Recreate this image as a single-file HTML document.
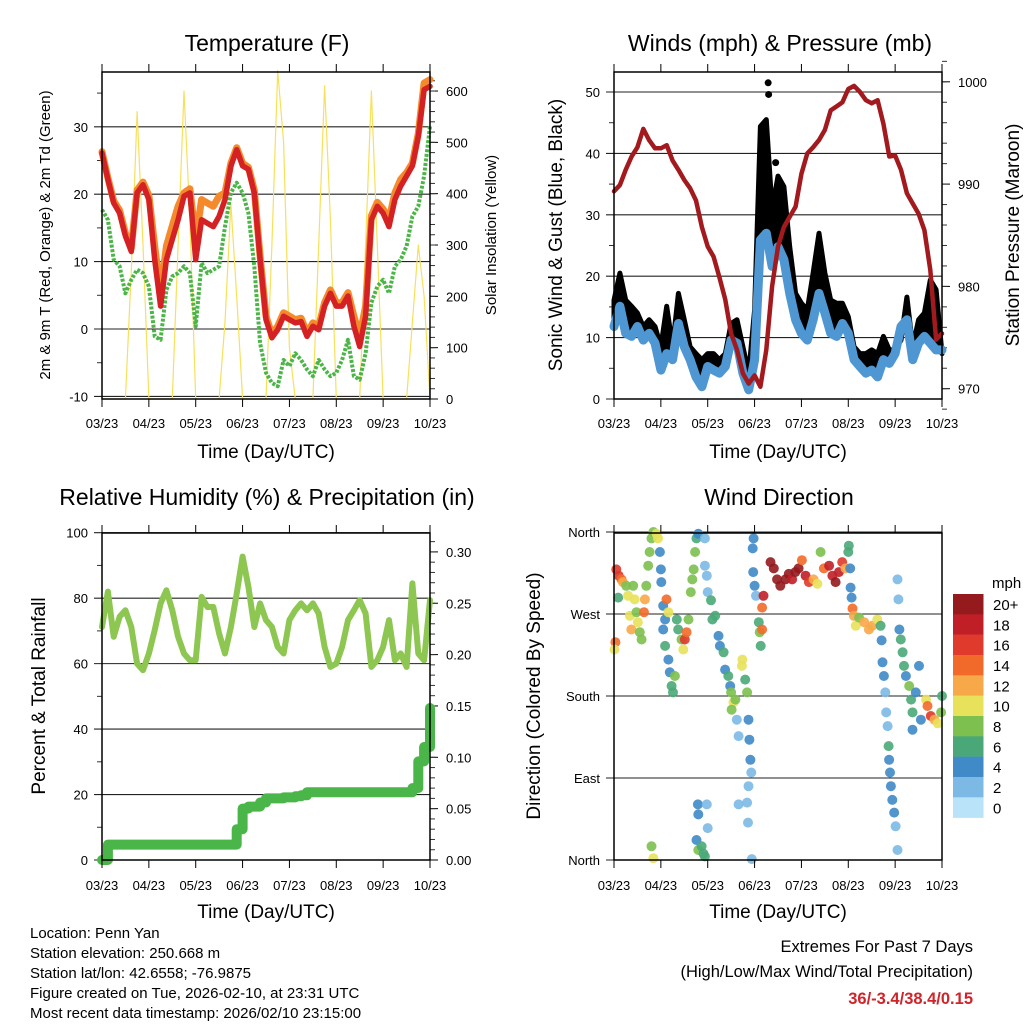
<!DOCTYPE html>
<html><head><meta charset="utf-8"><style>
html,body{margin:0;padding:0;background:#fff}
svg{display:block;font-family:"Liberation Sans",Arial,sans-serif}
</style></head><body>
<svg id="chart" width="1024" height="1024" viewBox="0 0 1024 1024" xmlns="http://www.w3.org/2000/svg"></svg>
<script>
const xLabels=["03/23","04/23","05/23","06/23","07/23","08/23","09/23","10/23"];
const tempRed=[26.1,22.2,18.7,17.2,13.8,11.5,20.2,21.4,19.2,10.3,3.4,10.3,13.3,16.2,19.7,20.2,10.3,16.2,15.7,15.2,16.7,19.2,24.2,26.6,24.2,23.7,20.2,10.3,1.4,-1.3,-0.1,1.9,1.4,0.9,1.1,-1.1,0.4,-0.1,3.4,5.3,3.4,3.4,4.9,0.4,-2.6,1.9,16.2,18.2,17.2,15.2,19.2,21.2,22.7,24.2,28.6,35.5,36.0];
const tempOrange=[26.3,22.4,19.0,17.6,14.2,12.0,20.6,21.8,19.8,12.3,5.4,12.3,15.3,18.2,20.2,20.8,13.3,19.2,18.7,18.2,19.7,20.2,24.6,26.9,24.6,24.0,20.6,10.8,1.9,-0.8,0.4,2.4,1.9,1.4,1.6,-0.6,0.9,0.4,3.9,5.8,3.9,3.9,5.4,1.9,-1.1,3.4,16.8,18.8,17.8,16.2,20.2,22.2,23.2,24.6,29.0,36.5,37.0];
const dewGreen=[17.7,16.2,10.3,9.3,5.3,7.3,8.8,8.3,6.3,-1.1,-1.6,5.8,7.8,8.3,9.3,8.3,0.4,9.8,8.3,8.8,9.3,15.2,20.2,21.7,20.2,17.2,9.3,-2.1,-6.5,-8.0,-8.5,-4.6,-5.5,-3.6,-4.6,-6.0,-7.0,-4.6,-6.0,-7.0,-6.5,-4.6,-1.6,-7.0,-7.5,-3.6,3.9,6.3,7.3,5.3,9.3,10.3,12.3,16.7,18.2,22.7,30.1];
const solar=[0,0,0,0,0,250,560,300,0,0,0,0,0,300,600,350,0,0,0,0,0,150,380,200,0,0,0,0,0,300,640,500,100,0,0,0,0,300,610,350,0,0,0,0,0,300,600,300,0,0,0,0,0,150,300,200,0];
const pressure=[989.3,989.9,991.4,992.7,993.6,995.4,994.3,993.5,993.5,993.8,992.3,991.4,990.4,989.6,988.4,985.8,983.9,982.9,980.9,978.7,975.4,973.8,971.5,970.5,971.3,970.2,973.8,980.0,983.9,985.8,986.8,987.8,991.0,993.0,993.6,994.3,995.3,997.2,997.6,998.0,999.3,999.6,999.0,998.2,997.9,998.2,995.9,992.7,992.8,991.4,989.1,988.1,987.1,985.5,981.6,974.8,975.4];
const windSpeed=[11.8,15.1,10.7,10.2,11.8,9.6,10.7,9.1,4.7,7.4,6.4,12.3,8.5,6.4,3.6,2.0,5.3,4.7,4.2,5.3,9.6,9.1,4.2,1.5,6.4,25.9,27.0,21.6,24.8,22.7,17.2,12.9,10.7,9.6,12.9,17.2,14.0,10.7,10.2,12.3,10.7,6.4,5.3,4.2,4.7,3.6,6.4,5.8,7.4,11.8,12.9,6.4,9.1,10.2,9.1,8.0,8.0];
const windGust=[16.1,20.5,16.1,15.1,14.0,11.8,12.9,11.8,8.5,15.1,8.5,17.2,12.9,8.5,7.4,6.4,7.4,7.4,6.4,7.4,12.3,12.9,8.5,4.2,14.5,44.4,45.5,30.8,36.3,34.6,24.8,17.2,15.6,14.5,20.5,27.0,20.5,16.1,15.6,15.6,13.4,8.5,7.4,7.4,8.0,7.4,10.2,8.0,8.0,9.6,16.6,8.5,12.9,14.0,19.4,17.8,7.4];
const gustPeakT=[3.29,3.30,3.21,3.45,3.19];
const gustPeakV=[51.5,49.6,42.0,38.5,39.0];
const rh=[71.2,82.0,68.2,74.3,76.3,71.2,60.0,58.0,63.1,70.2,78.4,82.4,76.3,68.2,63.1,61.0,61.0,80.4,77.3,77.3,69.2,63.1,71.2,81.4,92.7,83.5,71.2,78.4,73.3,71.2,65.1,63.1,73.3,76.3,78.4,76.3,78.4,75.3,65.1,59.0,60.0,65.1,73.3,76.3,79.4,75.3,59.0,61.0,65.1,73.3,61.0,63.1,59.0,84.5,63.1,61.0,79.4];
const precip=[0,0.015,0.015,0.015,0.015,0.015,0.015,0.015,0.015,0.015,0.015,0.015,0.015,0.015,0.015,0.015,0.015,0.015,0.015,0.015,0.015,0.015,0.015,0.030,0.050,0.052,0.052,0.056,0.060,0.060,0.060,0.061,0.061,0.062,0.063,0.066,0.066,0.066,0.066,0.066,0.066,0.066,0.066,0.066,0.066,0.066,0.066,0.066,0.066,0.066,0.066,0.066,0.066,0.070,0.096,0.110,0.148];
const dirT=[.05,.10,.16,.19,.03,.01,.09,.26,.30,.34,.37,.41,.44,.48,.51,.55,.59,.66,.64,.69,.73,.76,.80,.84,.91,.94,.98,1.00,1.01,1.05,1.09,1.12,1.16,1.05,1.09,1.16,1.19,1.23,1.26,1.30,1.34,1.37,1.44,1.51,1.55,1.48,1.59,1.64,1.67,1.70,1.73,1.76,1.80,1.94,1.94,1.98,2.00,2.07,2.10,2.16,2.23,2.26,2.34,2.37,2.44,2.48,2.50,2.55,2.59,2.51,2.62,2.66,2.73,2.74,2.80,2.84,2.87,2.89,2.91,2.93,2.87,2.84,2.86,2.66,2.98,2.96,2.97,3.00,3.03,3.09,3.11,3.16,3.13,3.19,3.16,3.34,3.41,3.48,3.55,3.66,3.73,3.80,3.87,3.94,4.01,4.09,4.16,4.26,4.34,4.41,4.48,4.59,4.66,4.73,4.80,4.87,4.94,5.00,5.01,5.04,5.05,5.07,5.09,5.12,5.16,5.23,5.34,5.44,5.51,5.62,5.69,5.71,5.73,5.76,5.79,5.81,5.84,5.86,5.87,5.89,5.91,5.94,5.98,6.01,6.05,6.05,6.07,6.09,6.12,6.16,6.19,6.23,6.30,6.34,6.37,6.44,6.51,6.55,6.66,6.69,6.76,6.84,6.91,6.98,7.0,6.37,.80,.84,1.76,1.80,1.87,1.91,1.94,1.79,1.80,1.98,2.94,2.00];
const dirDeg=[319,312,308,305,239,231,288,301,290,268,253,301,286,272,261,250,242,286,272,301,323,338,353,360,358,353,338,319,305,279,264,286,272,253,235,220,206,191,184,202,264,253,242,242,250,231,264,294,308,319,338,353,358,353,323,312,294,285,264,268,246,235,228,209,202,191,184,173,176,165,154,136,213,220,198,184,154,132,110,96,81,63,41,61,353,342,316,301,290,261,250,253,235,290,277,327,320,308,301,308,314,308,316,320,329,312,305,308,303,338,320,323,312,305,316,327,320,338,345,320,299,288,276,268,257,266,261,253,257,264,257,241,217,202,184,162,147,125,110,96,81,66,52,37,11,308,286,253,242,228,213,202,191,176,162,184,213,154,176,169,158,154,150,162,180,143,15,2,22,11,15,7,4,61,50,61,1,35];
const dirSpd=[15,16,14,12,13,10,6,8,10,10,12,8,10,8,10,8,7,12,13,8,7,8,8,7,10,10,4,4,4,4,4,13,10,4,6,4,4,6,6,7,6,6,8,15,14,10,7,8,8,7,8,6,3,1,1,1,1,6,5,6,4,4,5,4,5,4,8,10,8,8,2,1,9,10,6,7,3,3,3,2,1,1,1,1,4,3,3,3,2,6,8,14,6,18,14,20,20,20,20,20,20,18,20,20,14,18,16,12,10,8,14,18,18,20,18,16,12,6,6,4,4,4,14,12,10,8,12,12,12,10,6,4,3,3,2,2,2,6,4,4,3,3,4,2,1,1,1,4,6,6,6,4,8,5,6,4,4,3,10,14,16,12,10,8,5,4,8,10,4,8,6,5,6,4,4,1,1,1];
const speedBins=["0","2","4","6","8","10","12","14","16","18","20+"];
const speedColors=["#b9e3f8","#7cb9e5","#3f8ac7","#4aa878","#7dc04f","#e8e25a","#f7a848","#f26a2a","#df3a2b","#c01f27","#951a1e"];

const svg=document.getElementById('chart');
const NS="http://www.w3.org/2000/svg";
function el(tag,attrs,parent){const e=document.createElementNS(NS,tag);for(const k in attrs)e.setAttribute(k,attrs[k]);(parent||svg).appendChild(e);return e;}
function txt(s,x,y,size,anchor,parent,extra){const e=el('text',Object.assign({x:x,y:y,'font-size':size,'text-anchor':anchor||'middle',fill:'#000'},extra||{}),parent);e.textContent=s;return e;}
const tStep=0.125;
function tAt(i){return i*tStep;}

function panel(name,x0,x1,yTop,yBot){
  const g=el('g',{});
  
  
  return {g:g,x0:x0,x1:x1,yTop:yTop,yBot:yBot,x:function(t){return x0+t*(x1-x0)/7;}};
}
function frame(P,labelY,titleY){
  const xa=el('g',{},P.g);
  
  
  for(let i=0;i<xLabels.length;i++){
    const xx=P.x(i);
    el('line',{x1:xx,x2:xx,y1:P.yBot,y2:P.yBot+8,stroke:'#000','stroke-width':1},xa);
    el('line',{x1:xx,x2:xx,y1:P.yTop,y2:P.yTop-8,stroke:'#000','stroke-width':1},xa);
    const t=txt(xLabels[i],xx,labelY,13,'middle',xa);
    
    
  }
  const tt=txt('Time (Day/UTC)',(P.x0+P.x1)/2,titleY,19,'middle',xa);
  
  
}
function box(P){
  const r=el('rect',{x:P.x0,y:P.yTop,width:P.x1-P.x0,height:P.yBot-P.yTop,fill:'none',stroke:'#000','stroke-width':1.5},P.g);
  
  
}
function leftAxis(P,vals,labels,yf,minor,name){
  const a=el('g',{},P.g);
  
  
  for(let i=0;i<vals.length;i++){
    const y=yf(vals[i]);
    el('line',{x1:P.x0-8,x2:P.x1,y1:y,y2:y,stroke:'#222','stroke-width':1.1},a);
    const t=txt(labels[i],P.x0-14,y+5,13,'end',a);
    
    
  }
  minor.forEach(v=>{const y=yf(v);el('line',{x1:P.x0-5,x2:P.x0,y1:y,y2:y,stroke:'#333','stroke-width':1},a);});
}
function rightAxis(P,vals,labels,yf,minor,name){
  const a=el('g',{},P.g);
  
  
  for(let i=0;i<vals.length;i++){
    const y=yf(vals[i]);
    el('line',{x1:P.x1,x2:P.x1+8,y1:y,y2:y,stroke:'#000','stroke-width':1},a);
    const t=txt(labels[i],P.x1+16,y+5,13,'start',a);
    
    
  }
  minor.forEach(v=>{const y=yf(v);el('line',{x1:P.x1,x2:P.x1+5,y1:y,y2:y,stroke:'#333','stroke-width':1},a);});
}
function poly(P,vals,yf,attrs,name){
  let pts=vals.map((v,i)=>P.x(tAt(i)).toFixed(1)+','+yf(v).toFixed(1)).join(' ');
  const p=el('polyline',Object.assign({points:pts,fill:'none','stroke-linejoin':'round','stroke-linecap':'round'},attrs),P.g);
  
  
  return p;
}
function rot(s,x,y,size,name){
  const t=txt(s,x,y,size,'middle',svg,{transform:'rotate(-90 '+x+' '+y+')'});
  
  
}
function title(s,x,y,name){const t=txt(s,x,y,23,'middle');}
function range(a,b,s){const r=[];for(let v=a;v<=b+1e-9;v+=s)r.push(+v.toFixed(4));return r;}

// ---------- Panel 1: Temperature ----------
const P1=panel('temperature-panel',102,430,72,399);
const yT=v=>329-v*6.74, yS=w=>399-w*0.5133;
leftAxis(P1,[-10,0,10,20,30],["-10","0","10","20","30"],yT,range(-5,35,10),'temperature-y-axis');
rightAxis(P1,[0,100,200,300,400,500,600],["0","100","200","300","400","500","600"],yS,range(20,620,20),'solar-y-axis');
poly(P1,solar,yS,{stroke:'#f7e05a','stroke-width':1.2},'solar-insolation-line');
poly(P1,dewGreen,yT,{stroke:'#4cb548','stroke-width':4,'stroke-dasharray':'3 1.6','stroke-linecap':'butt'},'dewpoint-line');
poly(P1,tempOrange,yT,{stroke:'#f58a2c','stroke-width':7},'temp-9m-line');
poly(P1,tempRed,yT,{stroke:'#d42124','stroke-width':5.5},'temp-2m-line');
box(P1);frame(P1,428,458);
title('Temperature (F)',267,51,'temperature-title');
rot('2m & 9m T (Red, Orange) & 2m Td (Green)',50,235,15,'temperature-y-title');
rot('Solar Insolation (Yellow)',496,235,15,'solar-y-title');

// ---------- Panel 2: Winds ----------
const P2=panel('winds-panel',614,942,72,399);
const yW=v=>399-v*6.14, yP=p=>388.7-(p-970)*10.23;
leftAxis(P2,[0,10,20,30,40,50],["0","10","20","30","40","50"],yW,range(5,45,10),'wind-y-axis');
rightAxis(P2,[970,980,990,1000],["970","980","990","1000"],yP,range(968,1002,2),'pressure-y-axis');
{
  const up=windGust.map((v,i)=>P2.x(tAt(i)).toFixed(1)+','+yW(v).toFixed(1));
  const dn=windSpeed.map((v,i)=>P2.x(tAt(i)).toFixed(1)+','+yW(v).toFixed(1)).reverse();
  const pg=el('polygon',{points:up.concat(dn).join(' '),fill:'#000',stroke:'#000','stroke-width':5,'stroke-linejoin':'round'},P2.g);
  
  
}
gustPeakT.forEach((t,i)=>{const c=el('circle',{cx:P2.x(t),cy:yW(gustPeakV[i]),r:3.5,fill:'#000'},P2.g);

});
poly(P2,windSpeed,yW,{stroke:'#4f97d3','stroke-width':9},'wind-speed-line');
poly(P2,pressure,yP,{stroke:'#a31a1e','stroke-width':4.5},'pressure-line');
box(P2);frame(P2,428,458);
title('Winds (mph) & Pressure (mb)',780,51,'winds-title');
rot('Sonic Wind & Gust (Blue, Black)',562,235,19,'wind-y-title');
rot('Station Pressure (Maroon)',1019,235,19,'pressure-y-title');

// ---------- Panel 3: RH & Precip ----------
const P3=panel('humidity-panel',102,430,533,860);
const yR=v=>860-v*3.273, yPr=v=>860-v*1027;
leftAxis(P3,[0,20,40,60,80,100],["0","20","40","60","80","100"],yR,range(10,90,20),'humidity-y-axis');
rightAxis(P3,[0,0.05,0.1,0.15,0.2,0.25,0.3],["0.00","0.05","0.10","0.15","0.20","0.25","0.30"],yPr,range(0.01,0.31,0.01),'precip-y-axis');
poly(P3,rh,yR,{stroke:'#8dc752','stroke-width':6},'humidity-line');
{let pts=[];precip.forEach((v,i)=>{const x=P3.x(tAt(i));if(i>0)pts.push(x.toFixed(1)+','+yPr(precip[i-1]).toFixed(1));pts.push(x.toFixed(1)+','+yPr(v).toFixed(1));});
const p=el('polyline',{points:pts.join(' '),fill:'none',stroke:'#4ab548','stroke-width':10,'stroke-linejoin':'round','stroke-linecap':'round'},P3.g);

}
box(P3);frame(P3,890,918);
title('Relative Humidity (%) & Precipitation (in)',267,505,'humidity-title');
rot('Percent & Total Rainfall',45,696,19,'humidity-y-title');

// ---------- Panel 4: Wind direction ----------
const P4=panel('wind-direction-panel',614,942,533,860);
const yD=d=>860-d*0.9111;
leftAxis(P4,[0,90,180,270,360],["North","East","South","West","North"],yD,[],'direction-y-axis');
dirT.forEach((t,i)=>{const s=dirSpd[i];const bi=Math.min(10,Math.round(s/2));
const c=el('circle',{cx:P4.x(t).toFixed(1),cy:yD(dirDeg[i]).toFixed(1),r:5,fill:speedColors[bi],'fill-opacity':0.9},P4.g);

});
box(P4);frame(P4,890,918);
title('Wind Direction',779,505,'wind-direction-title');
rot('Direction (Colored By Speed)',540,696,19,'direction-y-title');
const cb=el('g',{});


txt('mph',992,588,15,'start',cb);
for(let i=0;i<speedBins.length;i++){
  const k=speedBins.length-1-i;const y=594+i*20.33;
  const r=el('rect',{x:953,y:y,width:30.5,height:20.6,fill:speedColors[k]},cb);
  
  
  const t=txt(speedBins[k],993,y+16,15,'start',cb);
  
  
}

// ---------- Footer ----------
const info=["Location: Penn Yan","Station elevation: 250.668 m","Station lat/lon: 42.6558; -76.9875","Figure created on Tue, 2026-02-10, at 23:31 UTC","Most recent data timestamp: 2026/02/10 23:15:00"];
const ft=el('g',{});


info.forEach((s,i)=>txt(s,30,938+i*20,15,'start',ft));
const ex=el('g',{});


txt('Extremes For Past 7 Days',973,952,16.5,'end',ex);
txt('(High/Low/Max Wind/Total Precipitation)',973,977,16.5,'end',ex);
txt('36/-3.4/38.4/0.15',973,1004,16.5,'end',ex,{fill:'#d0242b','font-weight':'bold'});
</script>
</body></html>
